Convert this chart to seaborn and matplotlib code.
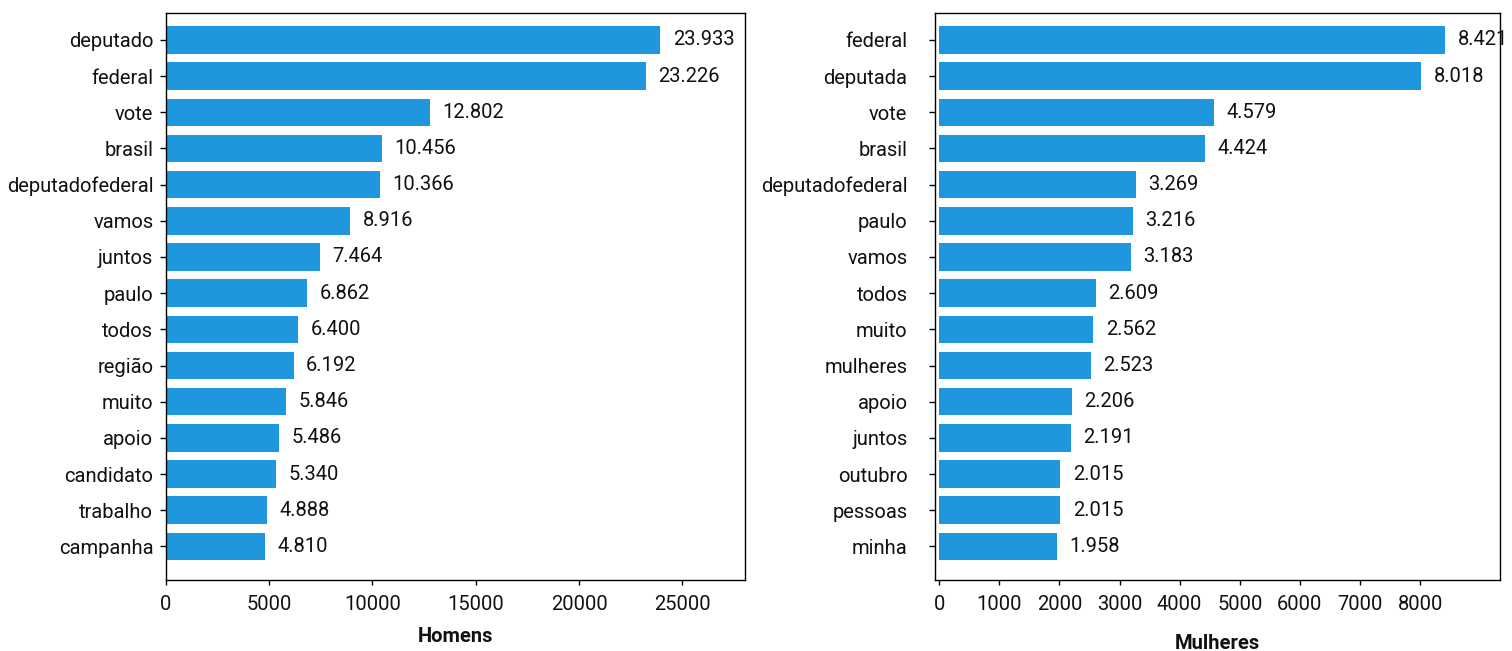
import matplotlib
matplotlib.use("Agg")
import matplotlib.pyplot as plt
import seaborn as sns
import pandas as pd

# Most frequent words in posts, split by candidate gender
palavras_homens = ["deputado", "federal", "vote", "brasil", "deputadofederal",
                   "vamos", "juntos", "paulo", "todos", "região", "muito",
                   "apoio", "candidato", "trabalho", "campanha"]
contagem_homens = [23933, 23226, 12802, 10456, 10366, 8916, 7464, 6862,
                   6400, 6192, 5846, 5486, 5340, 4888, 4810]

palavras_mulheres = ["federal", "deputada", "vote", "brasil", "deputadofederal",
                     "paulo", "vamos", "todos", "muito", "mulheres", "apoio",
                     "juntos", "outubro", "pessoas", "minha"]
contagem_mulheres = [8421, 8018, 4579, 4424, 3269, 3216, 3183, 2609, 2562,
                     2523, 2206, 2191, 2015, 2015, 1958]

ticks_homens = [0, 5000, 10000, 15000, 20000, 25000]
ticks_mulheres = [0, 1000, 2000, 3000, 4000, 5000, 6000, 7000, 8000]

BAR_COLOR = "#1f97de"
TEXT_COLOR = "#111111"

sns.set_style("ticks")
plt.rcParams["font.family"] = ["Roboto", "DejaVu Sans"]
plt.rcParams["axes.edgecolor"] = "black"
plt.rcParams["axes.linewidth"] = 1.0
plt.rcParams["text.color"] = TEXT_COLOR
plt.rcParams["axes.labelcolor"] = TEXT_COLOR
plt.rcParams["xtick.color"] = "black"
plt.rcParams["ytick.color"] = "black"
plt.rcParams["xtick.labelcolor"] = TEXT_COLOR
plt.rcParams["ytick.labelcolor"] = TEXT_COLOR


def fmt_br(v):
    return f"{v:,}".replace(",", ".")


FS = 14.5

fig = plt.figure(figsize=(15.12, 6.51), dpi=100)
ax_h = fig.add_axes([0.1095, 0.109, 0.3829, 0.8714])
ax_m = fig.add_axes([0.6186, 0.109, 0.3735, 0.8714])

panels = [
    (ax_h, palavras_homens, contagem_homens, ticks_homens, (0, 28000), "Homens", 4.8, 9.4),
    (ax_m, palavras_mulheres, contagem_mulheres, ticks_mulheres, (-65, 9330), "Mulheres", 16, 14.5),
]

for ax, words, counts, xticks, xlim, label, ypad, lpad in panels:
    df = pd.DataFrame({"palavra": words, "contagem": counts})
    sns.barplot(data=df, x="contagem", y="palavra", color=BAR_COLOR,
                width=0.76, saturation=1, linewidth=0, ax=ax)
    ax.bar_label(ax.containers[0], labels=[fmt_br(v) for v in counts],
                 padding=9, fontsize=FS, color=TEXT_COLOR)
    ax.set_xlim(*xlim)
    ax.set_ylim(14.93, -0.75)
    ax.set_xticks(xticks)
    ax.set_xticklabels([str(t) for t in xticks])
    ax.set_ylabel("")
    ax.set_xlabel(label, fontsize=FS, fontweight="bold", labelpad=lpad)
    ax.tick_params(axis="x", labelsize=FS, length=3.6, width=1, pad=7)
    ax.tick_params(axis="y", labelsize=FS, length=4, width=1, pad=ypad)
    for s in ax.spines.values():
        s.set_visible(True)
        s.set_color("black")
        s.set_linewidth(1.0)

fig.savefig("out.png", dpi=100)
